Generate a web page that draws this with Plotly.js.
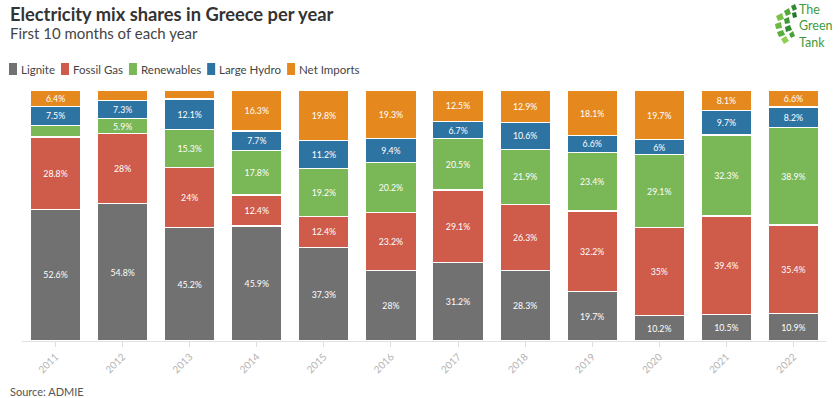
<!DOCTYPE html>
<html>
<head>
<meta charset="utf-8">
<script src="https://cdn.plot.ly/plotly-3.0.1.min.js"></script>
<style>html,body{margin:0;padding:0;background:#fff;}#chart{width:840px;height:398px;}</style>
</head>
<body>
<div id="chart"></div>
<script>
const years = ['2011','2012','2013','2014','2015','2016','2017','2018','2019','2020','2021','2022'];
const seriesNames = ['Lignite','Fossil Gas','Renewables','Large Hydro','Net Imports'];
const lignite    = [52.6, 54.8, 45.2, 45.9, 37.3, 28.0, 31.2, 28.3, 19.7, 10.2, 10.5, 10.9];
const fossilGas  = [28.8, 28.0, 24.0, 12.4, 12.4, 23.2, 29.1, 26.3, 32.2, 35.0, 39.4, 35.4];
const renewables = [4.7, 5.9, 15.3, 17.8, 19.2, 20.2, 20.5, 21.9, 23.4, 29.1, 32.3, 38.9];
const largeHydro = [7.5, 7.3, 12.1, 7.7, 11.2, 9.4, 6.7, 10.6, 6.6, 6.0, 9.7, 8.2];
const netImports = [6.4, 4.0, 3.4, 16.3, 19.8, 19.3, 12.5, 12.9, 18.1, 19.7, 8.1, 6.6];
const colors = ['#717171', '#cf5b4b', '#7ab756', '#2e74a3', '#e5891f'];

const W = 840, H = 398;
const M = {l: 22, r: 13, t: 90, b: 57};
const pw = W - M.l - M.r, ph = H - M.t - M.b;
const px = x => (x - M.l) / pw;
const py = y => (H - M.b - y) / ph;

const font = 'Lato, "Open Sans", sans-serif';
const allSeries = [lignite, fossilGas, renewables, largeHydro, netImports];
const traces = allSeries.map((vals, i) => ({
  type: 'bar',
  name: seriesNames[i],
  x: years,
  y: vals,
  text: vals.map(v => v >= 5 ? (Math.round(v * 10) / 10) + '%' : ''),
  textposition: 'inside',
  insidetextanchor: 'middle',
  textangle: 0,
  textfont: {color: '#ffffff', size: 10.5, family: font},
  marker: {color: colors[i], line: {color: '#ffffff', width: 1.2}},
  hoverinfo: 'x+y+name',
  showlegend: false
}));

const annotations = [
  {text: '<b>Electricity mix shares in Greece per year</b>', x: px(8), y: py(14), xref: 'paper', yref: 'paper',
   xanchor: 'left', yanchor: 'middle', showarrow: false, font: {size: 18.3, color: '#333333', family: font}},
  {text: 'First 10 months of each year', x: px(8), y: py(33), xref: 'paper', yref: 'paper',
   xanchor: 'left', yanchor: 'middle', showarrow: false, font: {size: 15, color: '#444444', family: font}},
  {text: 'Source: ADMIE', x: px(8), y: py(391), xref: 'paper', yref: 'paper',
   xanchor: 'left', yanchor: 'middle', showarrow: false, font: {size: 11, color: '#555555', family: font}},
  {text: 'The<br>Green<br>Tank', x: px(797), y: py(26), xref: 'paper', yref: 'paper', align: 'left',
   xanchor: 'left', yanchor: 'middle', showarrow: false, font: {size: 12.5, color: '#3f9a3c', family: font}}
];
const shapes = [];
// custom legend, laid out from measured text widths
const legFontSize = 11.5;
const cnv = document.createElement('canvas').getContext('2d');
cnv.font = legFontSize + 'px Lato';
let lx = 9;
seriesNames.forEach((n, i) => {
  shapes.push({type: 'rect', xref: 'paper', yref: 'paper', x0: px(lx), x1: px(lx + 8),
    y0: py(75), y1: py(63), fillcolor: colors[i], line: {width: 0}});
  annotations.push({text: n, x: px(lx + 10), y: py(69.5), xref: 'paper', yref: 'paper',
    xanchor: 'left', yanchor: 'middle', showarrow: false, font: {size: legFontSize, color: '#444444', family: font}});
  lx += 10 + cnv.measureText(n).width + 8;
});
// logo tiles (decorative)
const tiles = [
  [[776,16],[782,13],[784,19],[778,21],'#7cc24a'],
  [[775,24],[781,22],[782,28],[776,29],'#6cb843'],
  [[777,32],[783,30],[785,35],[779,37],'#5aad3c'],
  [[781,39],[786,36],[789,41],[784,44],'#8fcf55'],
  [[784,11],[789,8],[791,14],[786,16],'#55a83a'],
  [[784,19],[789,17],[790,23],[785,24],'#3f9a36'],
  [[785,27],[790,25],[792,30],[786,32],'#2f8a30'],
  [[789,34],[793,31],[795,36],[791,38],'#4aa23a'],
  [[791,6],[795,4],[797,9],[793,11],'#2f8a30'],
  [[792,13],[796,12],[797,17],[793,18],'#1f7a2a']
];
tiles.forEach(t => {
  const p = t.slice(0, 4).map(q => px(q[0]) + ',' + py(q[1]));
  shapes.push({type: 'path', xref: 'paper', yref: 'paper', path: 'M' + p.join('L') + 'Z', fillcolor: t[4], line: {width: 0}});
});

const layout = {
  width: W, height: H,
  margin: M,
  paper_bgcolor: '#ffffff', plot_bgcolor: '#ffffff',
  barmode: 'stack',
  bargap: 0.25,
  font: {family: font},
  showlegend: false,
  xaxis: {type: 'category', tickangle: -45, tickfont: {size: 10, color: '#b3b3b3', family: font},
    ticks: 'outside', ticklen: 5, tickcolor: '#dddddd', showline: true, linecolor: '#e3e3e3', linewidth: 1,
    showgrid: false, zeroline: false, fixedrange: true},
  yaxis: {range: [0, 100.2], visible: false, showgrid: false, zeroline: false, fixedrange: true},
  annotations: annotations,
  shapes: shapes,
  uniformtext: {mode: 'show', minsize: 8}
};
Plotly.newPlot('chart', traces, layout, {displayModeBar: false, staticPlot: true});
</script>
</body>
</html>
